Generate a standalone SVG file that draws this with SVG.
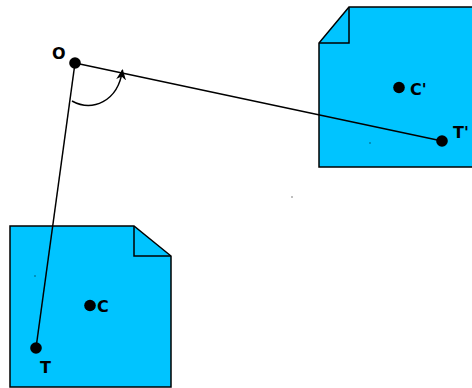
<svg xmlns="http://www.w3.org/2000/svg" width="472" height="388" viewBox="0 0 472 388">
<defs>
<style>
.page{fill:#00c4ff;stroke:#000;stroke-width:1.5;stroke-linejoin:miter}
.fold{fill:none;stroke:#000;stroke-width:1.5}
.lbl{font-family:"DejaVu Sans",sans-serif;font-weight:bold;font-size:16px;fill:#000}
.ln{stroke:#000;stroke-width:1.5;fill:none}
</style>
<marker id="ah" viewBox="0 0 10 10" refX="9" refY="5" markerWidth="11" markerHeight="11" orient="auto" markerUnits="userSpaceOnUse"><path d="M0,0.5 L10,5 L0,9.5 L3,5 Z" fill="#000"/></marker>
</defs>
<rect width="472" height="388" fill="#fff"/>
<g id="page1">
<path class="page" d="M349,7 L474,7 L474,167 L319,167 L319,43 Z"/>
<path class="fold" d="M349,7 L349,43 L319,43"/>
<rect x="369.5" y="142.5" width="1" height="1" fill="#000"/>
</g>
<g id="page2">
<path class="page" d="M10,226 L134,226 L171,256 L171,387 L10,387 Z"/>
<path class="fold" d="M134,226 L134,256 L171,256"/>
<rect x="34.5" y="275.5" width="1" height="1" fill="#000"/>
</g>
<rect x="291.5" y="196.5" width="1" height="1" fill="#000"/>
<g id="connectors">
<line class="ln" x1="75" y1="63" x2="442" y2="141"/>
<line class="ln" x1="75" y1="63" x2="36" y2="348"/>
<path class="ln" d="M72,101 C92,112 118,102 122.5,70" marker-end="url(#ah)"/>
</g>
<g id="O"><circle cx="75" cy="63" r="5.8"/><text class="lbl" x="52" y="59">O</text></g>
<g id="Cp"><circle cx="399" cy="87.5" r="5.8"/><text class="lbl" x="410" y="94.5">C'</text></g>
<g id="Tp"><circle cx="442" cy="141" r="5.8"/><text class="lbl" x="453" y="137.5">T'</text></g>
<g id="C"><circle cx="90" cy="305.5" r="5.8"/><text class="lbl" x="97" y="311.5">C</text></g>
<g id="T"><circle cx="36" cy="348" r="5.8"/><text class="lbl" x="40" y="373">T</text></g>
</svg>
